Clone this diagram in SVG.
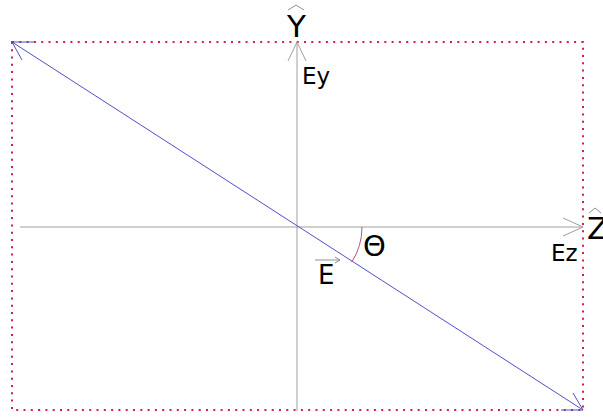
<svg xmlns="http://www.w3.org/2000/svg" width="603" height="420" viewBox="0 0 603 420">
<style>
.axis{stroke:#a0a0a0;stroke-width:1;fill:none}
.vec{stroke:#5050c8;stroke-width:1;fill:none}
.box{stroke:#d0204a;stroke-width:2;fill:none;stroke-dasharray:2 5.3}
.arc{stroke:#c05070;stroke-width:1;fill:none}
.big{font-family:"DejaVu Sans",sans-serif;font-size:31px;fill:#000}
.lbl{font-family:"DejaVu Sans",sans-serif;font-size:23px;fill:#000}
.hat{stroke:#909090;stroke-width:1;fill:none}
</style>
<rect width="603" height="420" fill="#fff"/>
<g id="frame"><rect class="box" x="12" y="42" width="571" height="368"/></g>
<g id="connectors">
<path id="z-axis" class="axis" d="M20 227H583M563 218L583 227L563 236"/>
<path id="y-axis" class="axis" d="M297 411V42M288 61L297 42L306 61"/>
<path id="e-vector" class="vec" d="M12 42L583 410M34 42L12 42L22 60M561 410L583 410L573 393"/>
<path id="theta-arc" class="arc" d="M362 227A65 65 0 0 1 351.7 262.2"/>
</g>
<g id="label-y"><path class="hat" d="M288 10L296 5L304 10"/><text class="big" x="296.5" y="37" text-anchor="middle">Y</text></g>
<g id="label-z"><path class="hat" d="M589 213L595 208L601 213"/><text class="big" x="587" y="239">Z</text></g>
<g id="label-ey"><text class="lbl" x="302" y="84">Ey</text></g>
<g id="label-ez"><text class="lbl" x="551" y="261">Ez</text></g>
<g id="label-theta"><text class="lbl" x="363" y="256" style="font-size:29px">Θ</text></g>
<g id="label-e"><path class="hat" d="M315 260H340M335 257L340 260L335 263"/><text class="lbl" x="318" y="284" style="font-size:26px">E</text></g>
</svg>
